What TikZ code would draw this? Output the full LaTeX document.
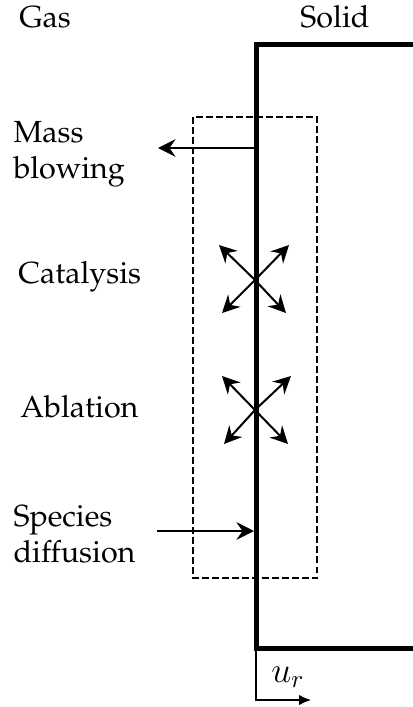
\documentclass[tikz,border=0pt]{standalone}
\usepackage[T1]{fontenc}
\renewcommand{\rmdefault}{ppl}
\usetikzlibrary{arrows.meta}
\tikzset{
  wall/.style={line width=2pt, line join=miter},
  zone/.style={line width=0.6pt, dash pattern=on 2.6pt off 1.4pt},
  flux/.style={line width=0.8pt, -{Stealth[length=7pt, width=7pt, inset=2.4pt]}},
  lab/.style={font=\fontsize{12.2}{14.4}\selectfont, align=left, inner sep=0pt},
  vel/.style={line width=0.5pt, -{Latex[length=4.8pt, width=4.2pt]}}
}
\begin{document}
\begin{tikzpicture}[x=0.4pt, y=-0.4pt]
  \useasboundingbox (0,0) rectangle (413,707);

  % phase headings
  \node[lab, anchor=base] (gas) at (45,27) {Gas};
  \node[lab, anchor=base] (solid) at (335,27) {Solid};

  % solid wall
  \coordinate (wtop) at (256,44);
  \coordinate (wbot) at (256,648);
  \draw[wall] (415,44) -- (wtop) -- (wbot) -- (415,648);

  % control volume around the surface
  \draw[zone] (193,117) rectangle (317,578);

  % mass blowing (base anchor sits on the last line)
  \node[lab, anchor=base west] (mb) at (13,178) {Mass\\blowing};
  \coordinate (mbs) at (256,148);
  \coordinate (mbe) at (158,148);
  \draw[flux] (mbs) -- (mbe);

  % catalysis
  \node[lab, anchor=base west] (cat) at (18,283) {Catalysis};
  \coordinate (cc) at (255,280);
  \foreach \dx/\dy in {-36/-35, 34/-35, -33/33, 31/33}
    \draw[flux] (cc) -- ++(\dx,\dy);

  % ablation
  \node[lab, anchor=base west] (abl) at (20,417) {Ablation};
  \coordinate (ac) at (255,410);
  \foreach \dx/\dy in {-33/-34, 36/-34, -31/34, 33/34}
    \draw[flux] (ac) -- ++(\dx,\dy);

  % species diffusion
  \node[lab, anchor=base west] (sd) at (13,562) {Species\\diffusion};
  \coordinate (sds) at (157,531);
  \coordinate (sde) at (254,531);
  \draw[flux] (sds) -- (sde);

  % recession velocity
  \coordinate (uc) at (256,700);
  \coordinate (ue) at (311,700);
  \draw[vel] (wbot) -- (uc) -- (ue);
  \node[inner sep=0pt, font=\fontsize{14.5}{16}\selectfont] (ur) at (288,677) {$u_r$};
\end{tikzpicture}
\end{document}
